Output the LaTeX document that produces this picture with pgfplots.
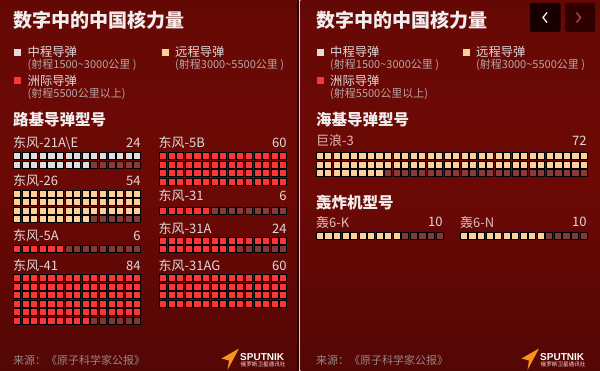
\documentclass[border=0pt]{standalone}
\usepackage{pgfplots}
\pgfplotsset{compat=1.18}
\usepackage{fontspec}
\setmainfont{Noto Sans CJK SC}
\newfontfamily\sputfont{Liberation Sans}
\definecolor{cgray}{HTML}{DEDEDE}
\definecolor{cpeach}{HTML}{FFCF98}
\definecolor{cred}{HTML}{FF3434}
\definecolor{bgA}{HTML}{2E0303}
\definecolor{bgB}{HTML}{4C0605}
\definecolor{bgC}{HTML}{6C0905}
\definecolor{bgD}{HTML}{680905}
\definecolor{bgE}{HTML}{380202}
\definecolor{titletxt}{HTML}{F2EEEE}
\definecolor{txt}{HTML}{E0DADA}
\definecolor{subtxt}{HTML}{B8A6A6}
\definecolor{srctxt}{HTML}{9A8686}
\definecolor{sporange}{HTML}{F7941D}
\pgfdeclareverticalshading{bgshade}{100bp}{color(0bp)=(bgA); color(18bp)=(bgB); color(50bp)=(bgC); color(72bp)=(bgD); color(100bp)=(bgE)}
\newcommand\fs[1]{\fontsize{#1}{#1}\selectfont}

% waffle: x0, y0 (first cell centre), ncols, nrows, count, colour, pitch x, pitch y
\newcommand\waffle[8]{%
  \gdef\wfill{}\gdef\wempty{}%
  \pgfmathtruncatemacro\wn{#3*#4}%
  \foreach \k in {1,...,\wn}{%
    \pgfmathsetmacro\cx{#1+mod(\k-1,#3)*#7}%
    \pgfmathsetmacro\cy{#2+floor((\k-1)/#3)*#8}%
    \ifnum\k>#5\relax\xdef\wempty{\wempty(\cx,\cy)}\else\xdef\wfill{\wfill(\cx,\cy)}\fi
  }%
  \edef\wtmp{\noexpand\addplot[only marks,mark=square*,mark size=3.55pt,mark options={draw=none,fill=#6}] coordinates {\wfill};}\wtmp
  \ifnum#5<\wn\relax
  \edef\wtmp{\noexpand\addplot[only marks,mark=square*,mark size=3.55pt,mark options={draw=none,fill=white,fill opacity=0.2}] coordinates {\wempty};}\wtmp
  \fi
}

\begin{document}
\begin{tikzpicture}
% backgrounds
\shade[shading=bgshade] (0,0) rectangle (297pt,371pt);
\fill[color=black!85!red] (297pt,0) rectangle (299pt,371pt);
\fill[color=white!75!red] (299pt,0) rectangle (300.5pt,371pt);
\shade[shading=bgshade] (300.5pt,0) rectangle (600pt,371pt);
\begin{axis}[x=1pt, y=1pt, xmin=0, xmax=600, ymin=0, ymax=371, y dir=reverse,
  hide axis, clip=false, enlargelimits=false]

% ---------- LEFT PANEL ----------
\node[anchor=west,inner sep=0,text=titletxt,font=\fs{19}\bfseries] at (13,20) {数字中的中国核力量};
\fill[cgray] (14,49) rectangle (21,56);
\node[anchor=west,inner sep=0,text=txt,font=\fs{12.3}] at (27.5,52) {中程导弹};
\node[anchor=west,inner sep=0,text=subtxt,font=\fs{11}] at (27.5,64.5) {(射程1500\textasciitilde3000公里 )};
\fill[cpeach] (161.5,49) rectangle (168.5,56);
\node[anchor=west,inner sep=0,text=txt,font=\fs{12.3}] at (175,52) {远程导弹};
\node[anchor=west,inner sep=0,text=subtxt,font=\fs{11}] at (175,64.5) {(射程3000\textasciitilde5500公里 )};
\fill[cred] (14,77.5) rectangle (21,84.5);
\node[anchor=west,inner sep=0,text=txt,font=\fs{12.3}] at (27.5,81) {洲际导弹};
\node[anchor=west,inner sep=0,text=subtxt,font=\fs{11}] at (27.5,93.5) {(射程5500公里以上)};
\node[anchor=west,inner sep=0,text=titletxt,font=\fs{15.5}\bfseries] at (13,120) {路基导弹型号};

% left column
\node[anchor=west,inner sep=0,text=txt,font=\fs{13}] at (13,143) {东风-21A\textbackslash E};
\node[anchor=east,inner sep=0,text=txt,font=\fs{13}] at (140.7,143) {24};
\waffle{16.9}{155.8}{15}{2}{24}{cgray}{8.58}{8.5}
\node[anchor=west,inner sep=0,text=txt,font=\fs{13}] at (13,181) {东风-26};
\node[anchor=east,inner sep=0,text=txt,font=\fs{13}] at (140.7,181) {54};
\waffle{16.9}{193.6}{15}{4}{54}{cpeach}{8.58}{8.5}
\node[anchor=west,inner sep=0,text=txt,font=\fs{13}] at (13,236) {东风-5A};
\node[anchor=east,inner sep=0,text=txt,font=\fs{13}] at (140.7,236) {6};
\waffle{16.9}{248.6}{15}{1}{6}{cred}{8.58}{8.5}
\node[anchor=west,inner sep=0,text=txt,font=\fs{13}] at (13,265.5) {东风-41};
\node[anchor=east,inner sep=0,text=txt,font=\fs{13}] at (140.7,265.5) {84};
\waffle{16.9}{278}{15}{6}{84}{cred}{8.58}{8.5}

% right column
\node[anchor=west,inner sep=0,text=txt,font=\fs{13}] at (158.5,143) {东风-5B};
\node[anchor=east,inner sep=0,text=txt,font=\fs{13}] at (286.7,143) {60};
\waffle{162.9}{155.8}{15}{4}{60}{cred}{8.58}{8.5}
\node[anchor=west,inner sep=0,text=txt,font=\fs{13}] at (158.5,196) {东风-31};
\node[anchor=east,inner sep=0,text=txt,font=\fs{13}] at (286.7,196) {6};
\waffle{162.9}{210.8}{15}{1}{6}{cred}{8.58}{8.5}
\node[anchor=west,inner sep=0,text=txt,font=\fs{13}] at (158.5,228.3) {东风-31A};
\node[anchor=east,inner sep=0,text=txt,font=\fs{13}] at (286.7,228.3) {24};
\waffle{162.9}{240.3}{15}{2}{24}{cred}{8.58}{8.5}
\node[anchor=west,inner sep=0,text=txt,font=\fs{13}] at (158.5,265.5) {东风-31AG};
\node[anchor=east,inner sep=0,text=txt,font=\fs{13}] at (286.7,265.5) {60};
\waffle{162.9}{278}{15}{4}{60}{cred}{8.58}{8.5}

\node[anchor=west,inner sep=0,text=srctxt,font=\fs{11}] at (13,360) {来源：《原子科学家公报》};
\fill[sporange] (239,348.5) -- (221.5,358.5) -- (229,360.5) -- (227.5,370) -- cycle;
\node[anchor=west,inner sep=0,text=white,font=\sputfont\fs{10}\bfseries] at (240,356.7) {SPUTNIK};
\node[anchor=west,inner sep=0,text=white!85!red,font=\fs{5.6}] at (240.5,364.5) {俄罗斯卫星通讯社};

% ---------- RIGHT PANEL ----------
\node[anchor=west,inner sep=0,text=titletxt,font=\fs{19}\bfseries] at (316,20) {数字中的中国核力量};
\fill[rounded corners=2pt, color=black!90!red] (530,3) rectangle (560.5,32);
\draw[white, line width=1.3pt] (547,12.5) -- (543,17.5) -- (547,22.5);
\fill[rounded corners=2pt, color=black!82!red] (565,3) rectangle (595,32);
\draw[white!50!black!60!red, line width=1.3pt] (576.5,12.5) -- (580.5,17.5) -- (576.5,22.5);

\fill[cgray] (316.5,49) rectangle (323.5,56);
\node[anchor=west,inner sep=0,text=txt,font=\fs{12.3}] at (330,52) {中程导弹};
\node[anchor=west,inner sep=0,text=subtxt,font=\fs{11}] at (330,64.5) {(射程1500\textasciitilde3000公里 )};
\fill[cpeach] (462.5,49) rectangle (469.5,56);
\node[anchor=west,inner sep=0,text=txt,font=\fs{12.3}] at (476,52) {远程导弹};
\node[anchor=west,inner sep=0,text=subtxt,font=\fs{11}] at (476,64.5) {(射程3000\textasciitilde5500公里 )};
\fill[cred] (316.5,77.5) rectangle (323.5,84.5);
\node[anchor=west,inner sep=0,text=txt,font=\fs{12.3}] at (330,81) {洲际导弹};
\node[anchor=west,inner sep=0,text=subtxt,font=\fs{11}] at (330,93.5) {(射程5500公里以上)};

\node[anchor=west,inner sep=0,text=titletxt,font=\fs{15.5}\bfseries] at (316,120) {海基导弹型号};
\node[anchor=west,inner sep=0,text=txt!85!red,font=\fs{13}] at (316,141) {巨浪-3};
\node[anchor=east,inner sep=0,text=txt,font=\fs{13}] at (586.7,141) {72};
\waffle{319.6}{155.8}{32}{3}{72}{cpeach}{8.52}{8.5}

\node[anchor=west,inner sep=0,text=titletxt,font=\fs{15.5}\bfseries] at (316,203) {轰炸机型号};
\node[anchor=west,inner sep=0,text=txt!85!red,font=\fs{13}] at (316,222.3) {轰6-K};
\node[anchor=east,inner sep=0,text=txt,font=\fs{13}] at (442.7,222.3) {10};
\waffle{319.6}{235.8}{15}{1}{10}{cpeach}{8.55}{8.5}
\node[anchor=west,inner sep=0,text=txt!85!red,font=\fs{13}] at (460,222.3) {轰6-N};
\node[anchor=east,inner sep=0,text=txt,font=\fs{13}] at (586.7,222.3) {10};
\waffle{463.6}{235.8}{15}{1}{10}{cpeach}{8.55}{8.5}

\node[anchor=west,inner sep=0,text=srctxt,font=\fs{11}] at (316,360) {来源：《原子科学家公报》};
\fill[sporange] (539,348.5) -- (521.5,358.5) -- (529,360.5) -- (527.5,370) -- cycle;
\node[anchor=west,inner sep=0,text=white,font=\sputfont\fs{10}\bfseries] at (540,356.7) {SPUTNIK};
\node[anchor=west,inner sep=0,text=white!85!red,font=\fs{5.6}] at (540.5,364.5) {俄罗斯卫星通讯社};
\end{axis}
\end{tikzpicture}
\end{document}
